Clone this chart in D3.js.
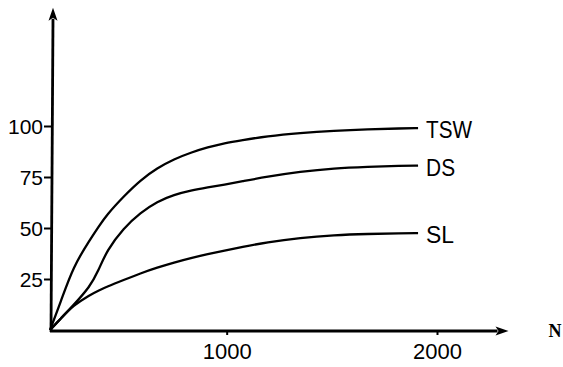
<!DOCTYPE html>
<html>
<head>
<meta charset="utf-8">
<script src="https://cdn.jsdelivr.net/npm/d3@7"></script>
<style>
  html, body { margin: 0; padding: 0; background: #fff; }
  svg { display: block; }
</style>
</head>
<body>
<div id="chart"></div>
<script>
// Sample size N along the horizontal axis
const sizes = [160, 210, 270, 350, 390, 430, 510, 590, 670, 750, 830, 910, 990, 1070, 1190, 1350, 1510, 1670, 1830, 1910];

// One curve per method
const tswValues = [0, 13.5, 31, 44.3, 50.5, 56.5, 65.5, 73.5, 79.4, 83.8, 87.0, 89.6, 91.6, 93, 95, 96.6, 97.7, 98.4, 98.8, 99];
const dsValues  = [0, 5.5, 12, 21.2, 29, 39, 50, 57.5, 63, 66.3, 68.4, 69.9, 71.3, 72.8, 75.1, 77.6, 79.3, 80, 80.5, 80.6];
const slValues  = [0, 5.5, 12, 17.2, 19.3, 21.2, 24.5, 27.8, 30.6, 33.1, 35.3, 37.2, 38.9, 40.6, 43, 45.2, 46.5, 47.1, 47.4, 47.5];

const seriesNames = ["TSW", "DS", "SL"];
const xTicks = [1000, 2000];
const yTicks = [25, 50, 75, 100];
const xAxisLabel = "N";

// Axis extents (where the arrows end)
const xDomain = [160, 2000];
const yDomain = [0, 100];
const xAxisEnd = 2340;
const yAxisEnd = 158;

const width = 563, height = 367;

const svg = d3.select("#chart").append("svg")
  .attr("width", width).attr("height", height);

const x = d3.scaleLinear().domain(xDomain).range([50, 437]);
const y = d3.scaleLinear().domain(yDomain).range([330, 126]);

const font = "'Liberation Sans', Arial, sans-serif";

// Y axis ticks and labels
const yAxis = svg.append("g")
  .attr("transform", `translate(${x(xDomain[0]) + 1},0)`)
  .call(d3.axisLeft(y).tickValues(yTicks).tickSize(7).tickPadding(1).tickFormat(d3.format("d")));
yAxis.select(".domain").remove();
yAxis.selectAll(".tick line").attr("stroke", "#000").attr("stroke-width", 2);
yAxis.selectAll(".tick text")
  .attr("fill", "#000").attr("font-family", font).attr("font-size", 21)
  .attr("dy", "0.38em");

// X axis ticks and labels
const xAxis = svg.append("g")
  .attr("transform", `translate(0,${y(0) + 1})`)
  .call(d3.axisBottom(x).tickValues(xTicks).tickSize(4).tickPadding(8).tickFormat(d3.format("d")));
xAxis.select(".domain").remove();
xAxis.selectAll(".tick line").attr("stroke", "#000").attr("stroke-width", 2);
xAxis.selectAll(".tick text")
  .attr("fill", "#000").attr("font-family", font).attr("font-size", 22);

// Axis lines with arrowheads
const x0 = x(xDomain[0]) + 1, y0 = y(0) + 1;
const xEnd = x(xAxisEnd), yEnd = y(yAxisEnd);
const headLen = 13, headHalf = 4.5;

svg.append("line")
  .attr("x1", x0 - 1).attr("y1", y0).attr("x2", xEnd - headLen + 2).attr("y2", y0)
  .attr("stroke", "#000").attr("stroke-width", 2.8);
svg.append("path")
  .attr("d", `M${xEnd},${y0} L${xEnd - headLen},${y0 - headHalf} L${xEnd - headLen + 3},${y0} L${xEnd - headLen},${y0 + headHalf} Z`)
  .attr("fill", "#000");

svg.append("line")
  .attr("x1", x0).attr("y1", y0 + 1).attr("x2", x0 + 2).attr("y2", yEnd + headLen - 2)
  .attr("stroke", "#000").attr("stroke-width", 2.8);
svg.append("path")
  .attr("d", `M${x0 + 2},${yEnd} L${x0 + 2 - headHalf},${yEnd + headLen} L${x0 + 2},${yEnd + headLen - 3} L${x0 + 2 + headHalf},${yEnd + headLen} Z`)
  .attr("fill", "#000");

svg.append("text")
  .attr("x", 555).attr("y", 337)
  .attr("text-anchor", "middle")
  .attr("font-family", "'Liberation Serif', 'Times New Roman', serif")
  .attr("font-weight", "bold").attr("font-size", 18)
  .attr("fill", "#000")
  .text(xAxisLabel);

// Curves
const seriesValues = [tswValues, dsValues, slValues];
const labelWidths = [46, 29, 28];
const line = d3.line()
  .x(d => x(d[0]))
  .y(d => y(d[1]))
  .curve(d3.curveBasis);

seriesValues.forEach((vals, i) => {
  const pts = sizes.map((n, j) => [n, vals[j]]);
  svg.append("path")
    .attr("d", line(pts))
    .attr("fill", "none")
    .attr("stroke", "#000")
    .attr("stroke-width", 2.3)
    .attr("stroke-linejoin", "round");

  const last = pts[pts.length - 1];
  svg.append("text")
    .attr("x", x(last[0]) + 8)
    .attr("y", y(last[1]))
    .attr("dy", "0.42em")
    .attr("font-family", font)
    .attr("font-size", 24)
    .attr("textLength", labelWidths[i])
    .attr("lengthAdjust", "spacingAndGlyphs")
    .attr("fill", "#000")
    .text(seriesNames[i]);
});
</script>
</body>
</html>
